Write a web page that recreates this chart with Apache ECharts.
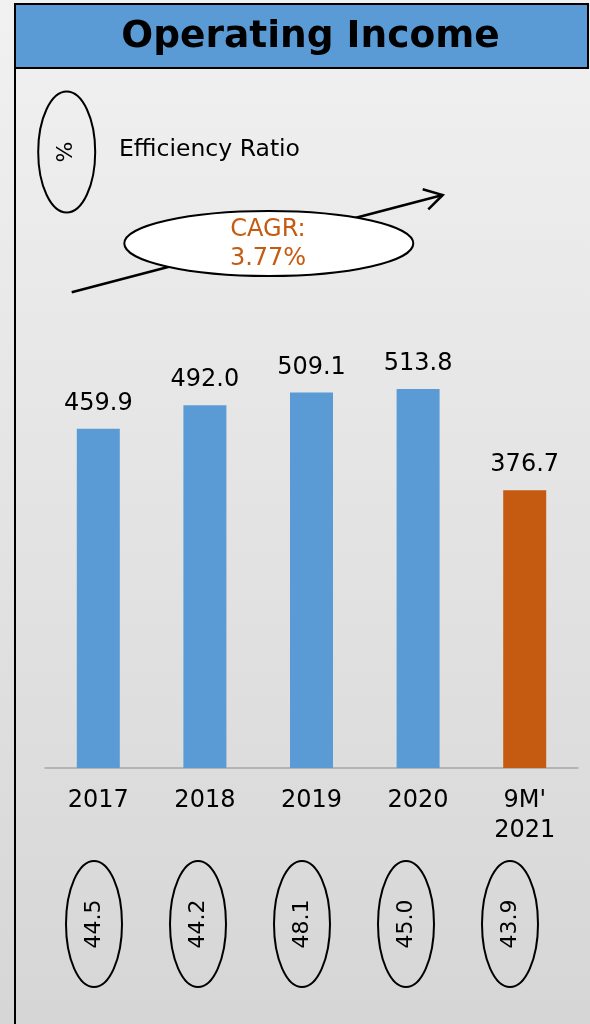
<!DOCTYPE html>
<html>
<head>
<meta charset="utf-8">
<script src="https://cdn.jsdelivr.net/npm/echarts@6/dist/echarts.min.js"></script>
<style>
html,body{margin:0;padding:0;}
#chart{width:590px;height:1024px;}
</style>
</head>
<body>
<div id="chart"></div>
<script>
const title = 'Operating Income';
const categories = ['2017', '2018', '2019', '2020', "9M'\n2021"];
const operatingIncome = [459.9, 492.0, 509.1, 513.8, 376.7];
const efficiencyRatio = [44.5, 44.2, 48.1, 45.0, 43.9];
const legendSymbol = '%';
const legendLabel = 'Efficiency Ratio';
const cagrLines = ['CAGR:', '3.77%'];

const FONT = '"DejaVu Sans", Verdana, sans-serif';
const BLUE = '#5B9BD5';
const ORANGE = '#C55A11';

const chart = echarts.init(document.getElementById('chart'), null, {renderer: 'canvas'});

const option = {
  animation: false,
  backgroundColor: {
    type: 'linear', x: 0, y: 0, x2: 0, y2: 1,
    colorStops: [{offset: 0, color: '#f1f1f1'}, {offset: 1, color: '#d6d6d6'}]
  },
  grid: [
    {left: 45, right: 12, top: 325.5, bottom: 256},
    {left: 42, right: 28, top: 861, height: 126}
  ],
  xAxis: [
    {
      type: 'category', gridIndex: 0, data: categories,
      axisLine: {lineStyle: {color: '#a6a6a6', width: 1.5}},
      axisTick: {show: false},
      axisLabel: {color: '#000', fontSize: 24, fontFamily: FONT, lineHeight: 30, margin: 18}
    },
    {
      type: 'category', gridIndex: 1, data: categories,
      show: false
    }
  ],
  yAxis: [
    {type: 'value', gridIndex: 0, min: 0, max: 600, show: false, splitLine: {show: false}},
    {type: 'value', gridIndex: 1, min: 0, max: 1, show: false, splitLine: {show: false}}
  ],
  series: [
    {
      type: 'bar', xAxisIndex: 0, yAxisIndex: 0,
      data: operatingIncome,
      barWidth: 43,
      itemStyle: {
        color: p => (p.dataIndex === operatingIncome.length - 1 ? ORANGE : BLUE)
      },
      label: {
        show: true, position: 'top', distance: 13,
        color: '#000', fontSize: 24, fontFamily: FONT,
        formatter: p => Number(p.value).toFixed(1)
      }
    },
    {
      type: 'custom', xAxisIndex: 1, yAxisIndex: 1,
      data: efficiencyRatio.map((v, i) => [i, v]),
      clip: false,
      renderItem: (params, api) => {
        const c = api.coord([api.value(0), 0.5]);
        return {
          type: 'group',
          children: [
            {type: 'ellipse', shape: {cx: c[0], cy: c[1], rx: 28, ry: 63},
             style: {fill: 'none', stroke: '#000', lineWidth: 2}},
            {type: 'text', x: c[0], y: c[1], rotation: Math.PI / 2,
             style: {text: Number(api.value(1)).toFixed(1), fill: '#000',
                     fontSize: 22, fontFamily: FONT, align: 'center', verticalAlign: 'middle'}}
          ]
        };
      }
    }
  ],
  graphic: [
    {type: 'line', shape: {x1: 15, y1: 4, x2: 15, y2: 1030}, style: {stroke: '#000', lineWidth: 2}, z: 10},
    {type: 'rect', shape: {x: 15, y: 4, width: 573, height: 64},
     style: {fill: BLUE, stroke: '#000', lineWidth: 2}, z: 10},
    {type: 'text', x: 310.5, y: 37, z: 11,
     style: {text: title, fill: '#000', fontSize: 37.5, fontWeight: 'bold', fontFamily: FONT,
             align: 'center', verticalAlign: 'middle'}},
    {type: 'ellipse', shape: {cx: 66.7, cy: 152, rx: 28.5, ry: 60.5},
     style: {fill: 'none', stroke: '#000', lineWidth: 2}, z: 10},
    {type: 'text', x: 66.7, y: 152, rotation: Math.PI / 2, z: 11,
     style: {text: legendSymbol, fill: '#000', fontSize: 22, fontFamily: FONT,
             align: 'center', verticalAlign: 'middle'}},
    {type: 'text', x: 119, y: 150, z: 11,
     style: {text: legendLabel, fill: '#000', fontSize: 23.5, fontFamily: FONT,
             align: 'left', verticalAlign: 'middle'}},
    {type: 'line', shape: {x1: 71.7, y1: 292.3, x2: 442.7, y2: 195},
     style: {stroke: '#000', lineWidth: 2.5}, z: 10},
    {type: 'polyline', shape: {points: [[422.7, 189.3], [442.7, 195], [428.3, 209.3]]},
     style: {fill: 'none', stroke: '#000', lineWidth: 2.5}, z: 10},
    {type: 'ellipse', shape: {cx: 268.8, cy: 243.5, rx: 144.5, ry: 32.5},
     style: {fill: '#fff', stroke: '#000', lineWidth: 2}, z: 12},
    {type: 'text', x: 268, y: 230, z: 13,
     style: {text: cagrLines[0], fill: ORANGE, fontSize: 24, fontFamily: FONT,
             align: 'center', verticalAlign: 'middle'}},
    {type: 'text', x: 268, y: 259, z: 13,
     style: {text: cagrLines[1], fill: ORANGE, fontSize: 24, fontFamily: FONT,
             align: 'center', verticalAlign: 'middle'}}
  ]
};
chart.setOption(option);
</script>
</body>
</html>
